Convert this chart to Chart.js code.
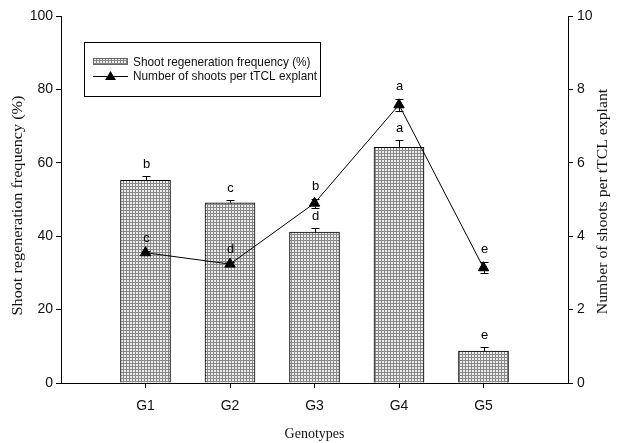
<!DOCTYPE html>
<html>
<head>
<meta charset="utf-8">
<script src="https://cdn.jsdelivr.net/npm/chart.js@4.4.1/dist/chart.umd.min.js"></script>
<style>
  html, body { margin: 0; padding: 0; background: #fff; }
  #wrap { width: 617px; height: 443px; }
</style>
</head>
<body>
<div id="wrap"><canvas id="c" width="617" height="443"></canvas></div>
<script>
// Genotypes and measured responses
const categories = ['G1', 'G2', 'G3', 'G4', 'G5'];
const regenFreq = [55.2, 49.1, 41.1, 64.2, 8.7];        // shoot regeneration frequency (%)
const regenErr = [1.3, 0.9, 1.2, 2.1, 1.0];
const regenLetters = ['b', 'c', 'd', 'a', 'e'];
const shootsPerExplant = [3.55, 3.24, 4.9, 7.58, 3.14];  // number of shoots per tTCL explant
const shootsErr = [0.06, 0.06, 0.12, 0.16, 0.15];
const shootsLetters = ['c', 'd', 'b', 'a', 'e'];
const leftTicks = [0, 20, 40, 60, 80, 100];
const rightTicks = [0, 2, 4, 6, 8, 10];

const SANS = '"Liberation Sans", Arial, sans-serif';
const SERIF = '"Liberation Serif", "Times New Roman", serif';

// fine cross-hatch fill for the bars
function makeHatch() {
  const p = document.createElement('canvas');
  p.width = 3; p.height = 3;
  const g = p.getContext('2d');
  g.fillStyle = '#ececec';
  g.fillRect(0, 0, 3, 3);
  g.fillStyle = '#888888';
  g.fillRect(0, 0, 3, 1);
  g.fillRect(0, 0, 1, 3);
  return g.createPattern(p, 'repeat');
}
const hatch = makeHatch();

// rotated axis title, stretched slightly along its length
function axisTitle(ctx, text, cx, cy, angle, size, stretch) {
  ctx.save();
  ctx.translate(cx, cy);
  ctx.rotate(angle);
  ctx.scale(stretch, 1);
  ctx.font = size + 'px ' + SERIF;
  ctx.fillStyle = '#111';
  ctx.textAlign = 'center';
  ctx.textBaseline = 'middle';
  ctx.fillText(text, 0, 0);
  ctx.restore();
}

// error bars, significance letters, axis titles and the boxed legend
const extras = {
  id: 'extras',
  afterDatasetsDraw(chart) {
    const { ctx, chartArea, scales: { x, y, y1 } } = chart;
    ctx.save();
    ctx.strokeStyle = '#000';
    ctx.fillStyle = '#000';
    ctx.lineWidth = 1;
    ctx.font = '13px ' + SANS;
    ctx.textAlign = 'center';
    ctx.textBaseline = 'middle';
    const seg = (x0, y0, x1, y1_) => {
      ctx.beginPath(); ctx.moveTo(x0, y0); ctx.lineTo(x1, y1_); ctx.stroke();
    };
    categories.forEach((c, i) => {
      const px = Math.round(x.getPixelForValue(i + 1)) + 0.5;
      // bars: upper error bar only
      const top = y.getPixelForValue(regenFreq[i]);
      const hi = Math.round(y.getPixelForValue(regenFreq[i] + regenErr[i])) + 0.5;
      seg(px, top, px, hi);
      seg(px - 4, hi, px + 4, hi);
      ctx.fillText(regenLetters[i], px, hi - 12);
      // line points: symmetric error bars
      const hi2 = Math.round(y1.getPixelForValue(shootsPerExplant[i] + shootsErr[i])) + 0.5;
      const lo2 = Math.round(y1.getPixelForValue(shootsPerExplant[i] - shootsErr[i])) + 0.5;
      seg(px, lo2, px, hi2);
      seg(px - 4, hi2, px + 4, hi2);
      seg(px - 4, lo2, px + 4, lo2);
      ctx.fillText(shootsLetters[i], px, hi2 - 13);
    });

    const midY = (chartArea.top + chartArea.bottom) / 2;
    axisTitle(ctx, 'Shoot regeneration frequency (%)', 18, midY + 6, -Math.PI / 2, 15, 1.08);
    axisTitle(ctx, 'Number of shoots per tTCL explant', 603, midY + 2, -Math.PI / 2, 15, 1.05);

    // legend box
    const barDs = chart.data.datasets.find(d => d.type === 'bar');
    const lineDs = chart.data.datasets.find(d => d.type === 'line');
    ctx.fillStyle = '#fff';
    ctx.fillRect(84, 42, 236, 54);
    ctx.strokeRect(84.5, 42.5, 236, 54);
    ctx.fillStyle = hatch;
    ctx.fillRect(93, 58, 35, 7);
    ctx.strokeStyle = '#666';
    ctx.strokeRect(93.5, 58.5, 34, 6);
    ctx.strokeStyle = '#000';
    seg(93, 76.5, 128, 76.5);
    ctx.fillStyle = '#000';
    ctx.beginPath();
    ctx.moveTo(110.5, 71); ctx.lineTo(116, 80); ctx.lineTo(105, 80); ctx.closePath(); ctx.fill();
    ctx.fillStyle = '#111';
    ctx.textAlign = 'left';
    ctx.font = '13px ' + SANS;
    [[barDs.label, 62], [lineDs.label, 76]].forEach(([t, ty]) => {
      ctx.save();
      ctx.translate(133, ty);
      ctx.scale(0.91, 1);
      ctx.fillText(t, 0, 0);
      ctx.restore();
    });
    ctx.restore();
  }
};

const axisGrid = {
  drawOnChartArea: false,
  drawTicks: true,
  tickLength: 5,
  color: '#000'
};

new Chart(document.getElementById('c'), {
  data: {
    datasets: [
      {
        type: 'line',
        label: 'Number of shoots per tTCL explant',
        data: categories.map((c, i) => ({ x: i + 1, y: shootsPerExplant[i] })),
        yAxisID: 'y1',
        borderColor: '#000',
        borderWidth: 1,
        pointStyle: 'triangle',
        pointRadius: 6,
        pointBackgroundColor: '#000',
        pointBorderColor: '#000',
        tension: 0,
        order: 0
      },
      {
        type: 'bar',
        label: 'Shoot regeneration frequency (%)',
        data: categories.map((c, i) => ({ x: i + 1, y: regenFreq[i] })),
        yAxisID: 'y',
        backgroundColor: hatch,
        borderColor: '#000',
        borderWidth: 1,
        barThickness: 50,
        order: 1
      }
    ]
  },
  options: {
    responsive: false,
    animation: false,
    devicePixelRatio: 1,
    layout: { padding: { top: 16, left: 0, right: 0, bottom: 0 } },
    plugins: { legend: { display: false }, tooltip: { enabled: false } },
    scales: {
      x: {
        type: 'linear',
        offset: false,
        min: 0,
        max: 6,
        afterBuildTicks: s => { s.ticks = [0, 1, 2, 3, 4, 5, 6].map(v => ({ value: v })); },
        afterFit: s => { s.height = 60; },
        ticks: {
          callback: v => categories[v - 1] || '',
          font: { family: SANS, size: 14 },
          color: '#111',
          padding: 10,
          maxRotation: 0
        },
        grid: {
          drawOnChartArea: false,
          offset: false,
          tickLength: 5,
          color: ctx => (ctx.tick && ctx.tick.value >= 1 && ctx.tick.value <= 5) ? '#000' : 'rgba(0,0,0,0)'
        },
        border: { display: true, color: '#000', width: 1 },
        title: {
          display: true,
          text: 'Genotypes',
          font: { family: SERIF, size: 14 },
          color: '#111',
          padding: { top: 0, bottom: 0 }
        }
      },
      y: {
        position: 'left',
        min: 0,
        max: 100,
        afterBuildTicks: s => { s.ticks = leftTicks.map(v => ({ value: v })); },
        afterFit: s => { s.width = 61; },
        ticks: { font: { family: SANS, size: 14 }, color: '#111', padding: 3 },
        grid: axisGrid,
        border: { display: true, color: '#000', width: 1 }
      },
      y1: {
        position: 'right',
        min: 0,
        max: 10,
        afterBuildTicks: s => { s.ticks = rightTicks.map(v => ({ value: v })); },
        afterFit: s => { s.width = 49; },
        ticks: { font: { family: SANS, size: 14 }, color: '#111', padding: 4 },
        grid: axisGrid,
        border: { display: true, color: '#000', width: 1 }
      }
    }
  },
  plugins: [extras]
});
</script>
</body>
</html>
